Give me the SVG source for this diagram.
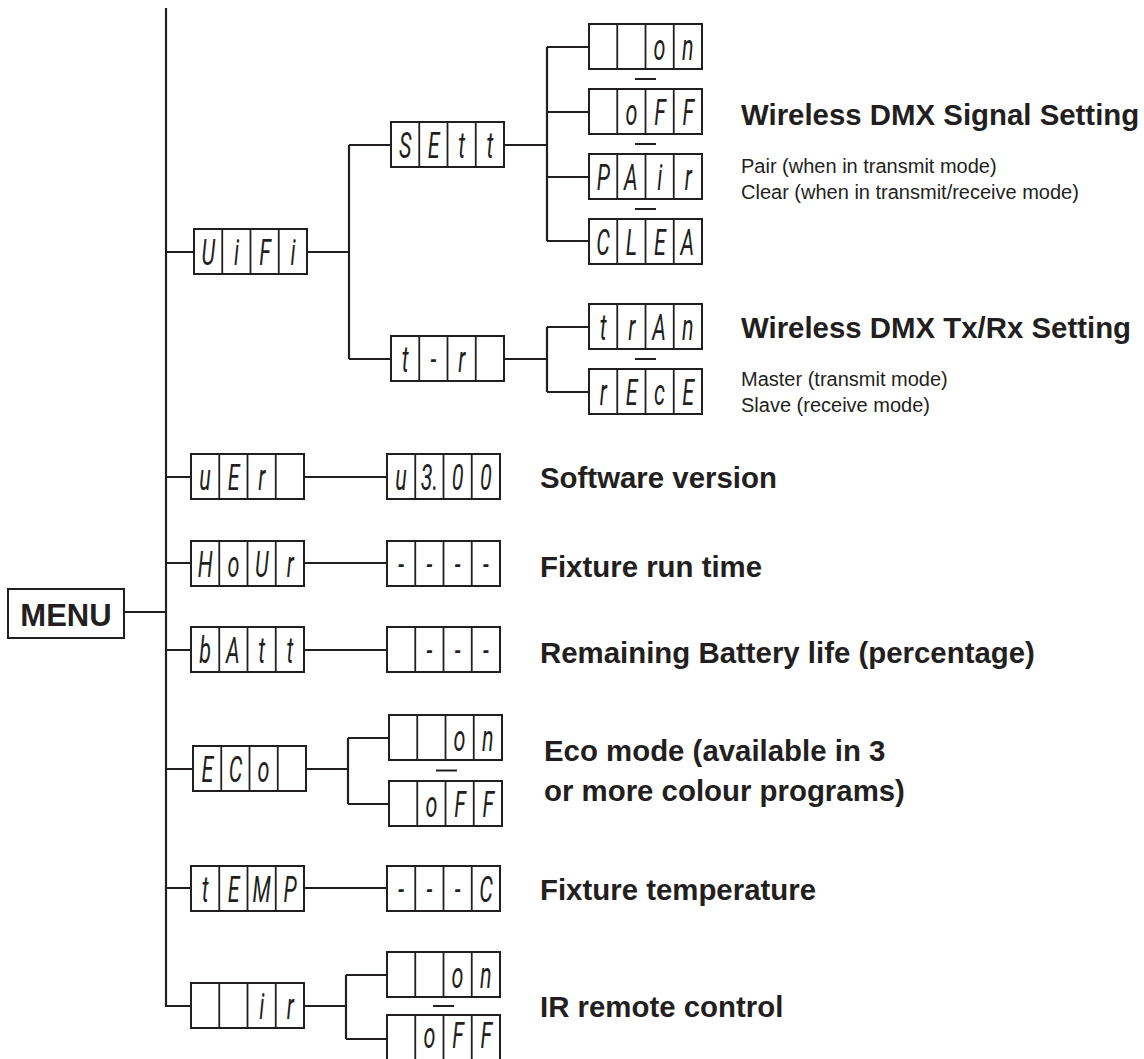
<svg xmlns="http://www.w3.org/2000/svg" xmlns:xlink="http://www.w3.org/1999/xlink" width="1144" height="1059" viewBox="0 0 1144 1059">
<style>
  .bg{fill:#ffffff}
  .cn{fill:none;stroke:#231f20;stroke-width:2.2}
  .bx{fill:#ffffff;stroke:#231f20;stroke-width:2}
  .dv{stroke:#231f20;stroke-width:1.8}
  .sep{stroke:#231f20;stroke-width:2}
  .d{font-family:Roboto,"Liberation Sans",sans-serif;font-weight:400;font-style:italic;font-size:36px;fill:#231f20;text-anchor:middle;transform-box:fill-box;transform-origin:center;transform:scaleX(0.6)}
  .t{font-family:"Liberation Sans",Arial,sans-serif;font-weight:bold;font-size:29.4px;fill:#231f20}
  .s{font-family:"Liberation Sans",Arial,sans-serif;font-size:20px;fill:#231f20}
  .m{font-family:"Liberation Sans",Arial,sans-serif;font-weight:bold;font-size:31px;fill:#231f20;text-anchor:middle}
</style>
<defs>
  <g id="disp">
    <rect class="bx" x="0" y="0" width="113" height="45"/>
    <line class="dv" x1="28.25" y1="0" x2="28.25" y2="45"/>
    <line class="dv" x1="56.5" y1="0" x2="56.5" y2="45"/>
    <line class="dv" x1="84.75" y1="0" x2="84.75" y2="45"/>
  </g>
</defs>
<rect class="bg" x="0" y="0" width="1144" height="1059"/>

<g id="connectors">
  <path class="cn" d="M166,8 V1006 H191"/>
  <path class="cn" d="M124,612 H166"/>
  <path class="cn" d="M166,252 H194 M307,252 H349 M349,145 V359 M349,145 H391 M349,359 H391"/>
  <path class="cn" d="M504,145 H547 M547,47 V241 M547,47 H589 M547,112 H589 M547,177 H589 M547,241 H589"/>
  <path class="cn" d="M504,359 H547 M547,327 V392 M547,327 H589 M547,392 H589"/>
  <path class="cn" d="M166,477 H191 M304,477 H387"/>
  <path class="cn" d="M166,563 H191 M304,563 H387"/>
  <path class="cn" d="M166,650 H191 M304,650 H387"/>
  <path class="cn" d="M166,769 H193 M306,769 H348 M348,738 V804 M348,738 H389 M348,804 H389"/>
  <path class="cn" d="M166,888 H191 M304,888 H387"/>
  <path class="cn" d="M304,1006 H346 M346,975 V1039 M346,975 H387 M346,1039 H387"/>
  <line class="sep" x1="635" y1="79" x2="656" y2="79"/>
  <line class="sep" x1="635" y1="144" x2="656" y2="144"/>
  <line class="sep" x1="635" y1="209" x2="656" y2="209"/>
  <line class="sep" x1="635" y1="359" x2="656" y2="359"/>
  <line class="sep" x1="436" y1="770.5" x2="457" y2="770.5"/>
  <line class="sep" x1="433" y1="1006" x2="454" y2="1006"/>
</g>

<g id="menu">
  <rect class="bx" x="8" y="589" width="116" height="49"/>
  <text class="m" x="66" y="625.5">MENU</text>
</g>

<g id="wifi">
  <use xlink:href="#disp" href="#disp" x="194" y="229"/>
  <text class="d" x="208.1" y="265.5">U</text><text class="d" x="236.4" y="265.5">i</text><text class="d" x="264.6" y="265.5">F</text><text class="d" x="292.9" y="265.5">i</text>
</g>
<g id="sett">
  <use xlink:href="#disp" href="#disp" x="391" y="122"/>
  <text class="d" x="405.1" y="158.5">S</text><text class="d" x="433.4" y="158.5">E</text><text class="d" x="461.6" y="158.5">t</text><text class="d" x="489.9" y="158.5">t</text>
</g>
<g id="sig-on">
  <use xlink:href="#disp" href="#disp" x="589" y="24"/>
  <text class="d" x="659.6" y="60.5">o</text><text class="d" x="687.9" y="60.5">n</text>
</g>
<g id="sig-off">
  <use xlink:href="#disp" href="#disp" x="589" y="89"/>
  <text class="d" x="631.4" y="125.5">o</text><text class="d" x="659.6" y="125.5">F</text><text class="d" x="687.9" y="125.5">F</text>
</g>
<g id="sig-pair">
  <use xlink:href="#disp" href="#disp" x="589" y="154"/>
  <text class="d" x="603.1" y="190.5">P</text><text class="d" x="631.4" y="190.5">A</text><text class="d" x="659.6" y="190.5">i</text><text class="d" x="687.9" y="190.5">r</text>
</g>
<g id="sig-clear">
  <use xlink:href="#disp" href="#disp" x="589" y="219"/>
  <text class="d" x="603.1" y="255.5">C</text><text class="d" x="631.4" y="255.5">L</text><text class="d" x="659.6" y="255.5">E</text><text class="d" x="687.9" y="255.5">A</text>
</g>
<g id="txrx">
  <use xlink:href="#disp" href="#disp" x="391" y="336"/>
  <text class="d" x="405.1" y="372.5">t</text><text class="d" x="433.4" y="372.5">-</text><text class="d" x="461.6" y="372.5">r</text>
</g>
<g id="tran">
  <use xlink:href="#disp" href="#disp" x="589" y="304"/>
  <text class="d" x="603.1" y="340.5">t</text><text class="d" x="631.4" y="340.5">r</text><text class="d" x="659.6" y="340.5">A</text><text class="d" x="687.9" y="340.5">n</text>
</g>
<g id="rece">
  <use xlink:href="#disp" href="#disp" x="589" y="369"/>
  <text class="d" x="603.1" y="405.5">r</text><text class="d" x="631.4" y="405.5">E</text><text class="d" x="659.6" y="405.5">c</text><text class="d" x="687.9" y="405.5">E</text>
</g>
<g id="ver">
  <use xlink:href="#disp" href="#disp" x="191" y="454"/>
  <text class="d" x="205.1" y="490.5">u</text><text class="d" x="233.4" y="490.5">E</text><text class="d" x="261.6" y="490.5">r</text>
</g>
<g id="ver-val">
  <use xlink:href="#disp" href="#disp" x="387" y="454"/>
  <text class="d" x="401.1" y="490.5">u</text><text class="d" x="429.4" y="490.5">3.</text><text class="d" x="457.6" y="490.5">0</text><text class="d" x="485.9" y="490.5">0</text>
</g>
<g id="hour">
  <use xlink:href="#disp" href="#disp" x="191" y="541"/>
  <text class="d" x="205.1" y="577.5">H</text><text class="d" x="233.4" y="577.5">o</text><text class="d" x="261.6" y="577.5">U</text><text class="d" x="289.9" y="577.5">r</text>
</g>
<g id="hour-val">
  <use xlink:href="#disp" href="#disp" x="387" y="541"/>
  <text class="d" x="401.1" y="577.5">-</text><text class="d" x="429.4" y="577.5">-</text><text class="d" x="457.6" y="577.5">-</text><text class="d" x="485.9" y="577.5">-</text>
</g>
<g id="batt">
  <use xlink:href="#disp" href="#disp" x="191" y="627"/>
  <text class="d" x="205.1" y="663.5">b</text><text class="d" x="233.4" y="663.5">A</text><text class="d" x="261.6" y="663.5">t</text><text class="d" x="289.9" y="663.5">t</text>
</g>
<g id="batt-val">
  <use xlink:href="#disp" href="#disp" x="387" y="627"/>
  <text class="d" x="429.4" y="663.5">-</text><text class="d" x="457.6" y="663.5">-</text><text class="d" x="485.9" y="663.5">-</text>
</g>
<g id="eco">
  <use xlink:href="#disp" href="#disp" x="193" y="746"/>
  <text class="d" x="207.1" y="782.5">E</text><text class="d" x="235.4" y="782.5">C</text><text class="d" x="263.6" y="782.5">o</text>
</g>
<g id="eco-on">
  <use xlink:href="#disp" href="#disp" x="389" y="715"/>
  <text class="d" x="459.6" y="751.5">o</text><text class="d" x="487.9" y="751.5">n</text>
</g>
<g id="eco-off">
  <use xlink:href="#disp" href="#disp" x="389" y="781"/>
  <text class="d" x="431.4" y="817.5">o</text><text class="d" x="459.6" y="817.5">F</text><text class="d" x="487.9" y="817.5">F</text>
</g>
<g id="temp">
  <use xlink:href="#disp" href="#disp" x="191" y="866"/>
  <text class="d" x="205.1" y="902.5">t</text><text class="d" x="233.4" y="902.5">E</text><text class="d" x="261.6" y="902.5">M</text><text class="d" x="289.9" y="902.5">P</text>
</g>
<g id="temp-val">
  <use xlink:href="#disp" href="#disp" x="387" y="866"/>
  <text class="d" x="401.1" y="902.5">-</text><text class="d" x="429.4" y="902.5">-</text><text class="d" x="457.6" y="902.5">-</text><text class="d" x="485.9" y="902.5">C</text>
</g>
<g id="ir">
  <use xlink:href="#disp" href="#disp" x="191" y="983"/>
  <text class="d" x="261.6" y="1019.5">i</text><text class="d" x="289.9" y="1019.5">r</text>
</g>
<g id="ir-on">
  <use xlink:href="#disp" href="#disp" x="387" y="952"/>
  <text class="d" x="457.6" y="988.5">o</text><text class="d" x="485.9" y="988.5">n</text>
</g>
<g id="ir-off">
  <use xlink:href="#disp" href="#disp" x="387" y="1015"/>
  <text class="d" x="429.4" y="1048.5">o</text><text class="d" x="457.6" y="1048.5">F</text><text class="d" x="485.9" y="1048.5">F</text>
</g>

<g id="labels">
  <text class="t" x="741" y="125">Wireless DMX Signal Setting</text>
  <text class="s" x="741" y="173">Pair (when in transmit mode)</text>
  <text class="s" x="741" y="199">Clear (when in transmit/receive mode)</text>
  <text class="t" x="741" y="338">Wireless DMX Tx/Rx Setting</text>
  <text class="s" x="741" y="386">Master (transmit mode)</text>
  <text class="s" x="741" y="412">Slave (receive mode)</text>
  <text class="t" x="540" y="488">Software version</text>
  <text class="t" x="540" y="577">Fixture run time</text>
  <text class="t" x="540" y="663">Remaining Battery life (percentage)</text>
  <text class="t" x="544" y="761">Eco mode (available in 3</text>
  <text class="t" x="544" y="801">or more colour programs)</text>
  <text class="t" x="540" y="900">Fixture temperature</text>
  <text class="t" x="540" y="1017">IR remote control</text>
</g>
</svg>
